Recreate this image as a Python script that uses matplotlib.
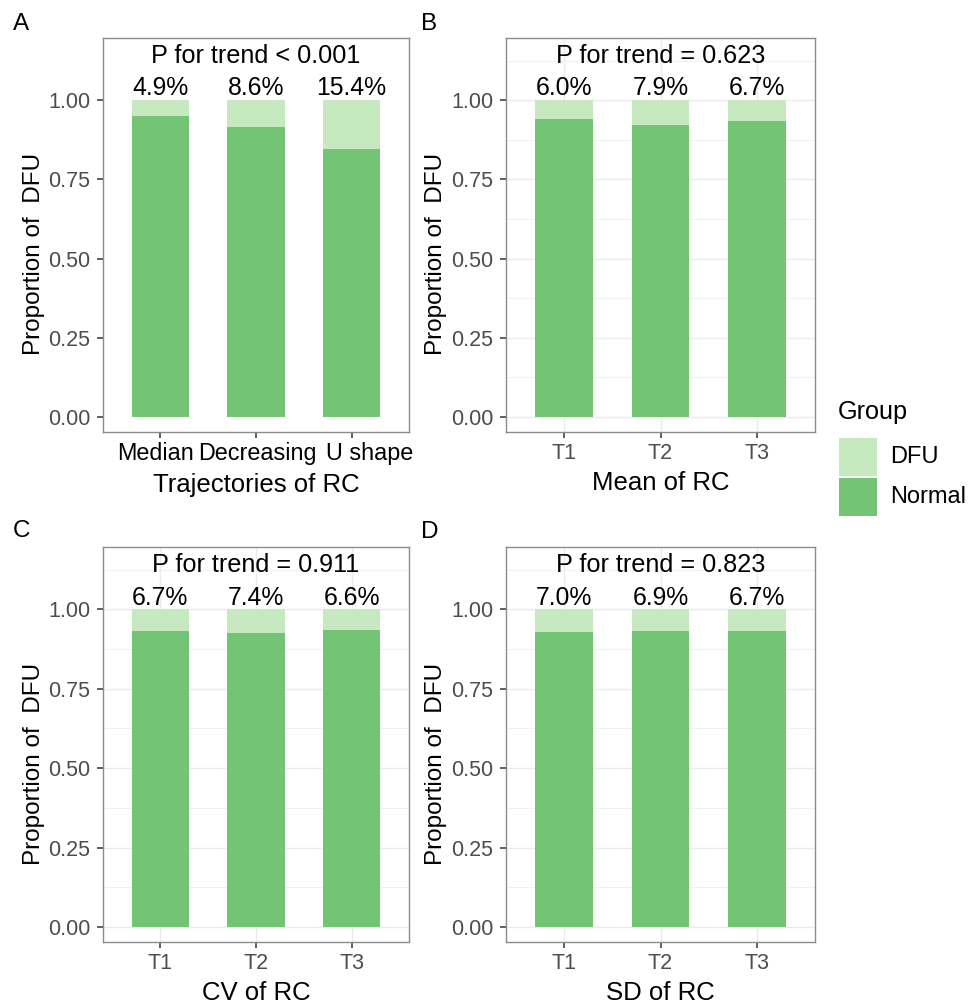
import matplotlib
matplotlib.use('Agg')
import matplotlib.pyplot as plt
from matplotlib.patches import Rectangle

plt.rcParams['font.family'] = ['Liberation Sans', 'DejaVu Sans']

# DFU percentage per group
traj_groups = ['Median', 'Decreasing', 'U shape']
traj_dfu = [4.9, 8.6, 15.4]

tert_groups = ['T1', 'T2', 'T3']
mean_dfu = [6.0, 7.9, 6.7]
cv_dfu = [6.7, 7.4, 6.6]
sd_dfu = [7.0, 6.9, 6.7]

p_texts = ['P for trend < 0.001', 'P for trend = 0.623',
           'P for trend = 0.911', 'P for trend = 0.823']
x_titles = ['Trajectories of RC', 'Mean of RC', 'CV of RC', 'SD of RC']
panel_tags = ['A', 'B', 'C', 'D']

y_ticks = [0.0, 0.25, 0.5, 0.75, 1.0]
y_ticklabels = ['0.00', '0.25', '0.50', '0.75', '1.00']

# in the source the trajectory labels sit a little off their ticks (pixels)
traj_label_shift = [-5, 1, 18]

DFU_COL = '#C7E9C0'
NORMAL_COL = '#74C476'
GRID_COL = '#EBEBEB'
BORDER_COL = '#8C8C8C'

W, H = 976, 1005
fig = plt.figure(figsize=(W / 100, H / 100), dpi=100)


def box(left, top, right, bottom):
    return [left / W, 1 - bottom / H, (right - left) / W, (bottom - top) / H]


panels = [
    (box(103, 38, 409, 432), traj_groups, traj_dfu, False),
    (box(506, 38, 815, 432), tert_groups, mean_dfu, True),
    (box(103, 547, 409, 942), tert_groups, cv_dfu, True),
    (box(506, 547, 815, 942), tert_groups, sd_dfu, True),
]
tag_pos = [(13, 24), (421, 24), (13, 531), (421, 532)]

for i, (rect, groups, dfu, grid) in enumerate(panels):
    ax = fig.add_axes(rect)
    xs = list(range(1, len(groups) + 1))
    normal = [1 - d / 100 for d in dfu]
    dfu_frac = [d / 100 for d in dfu]
    ax.bar(xs, normal, width=0.6, color=NORMAL_COL, zorder=2)
    ax.bar(xs, dfu_frac, width=0.6, bottom=normal, color=DFU_COL, zorder=2)
    for x, d in zip(xs, dfu):
        ax.text(x, 1.015, f'{d:.1f}%', ha='center', va='baseline',
                fontsize=17.8, color='black')
    ax.text(2, 1.117, p_texts[i], ha='center', va='baseline',
            fontsize=18.2, color='black')

    ax.set_xlim(0.4, 3.6)
    ax.set_ylim(-0.047, 1.196)
    ax.set_xticks(xs)
    ax.set_yticks(y_ticks)
    ax.set_yticklabels(y_ticklabels)
    if grid:
        ax.set_xticklabels(groups, fontsize=15.5, color='#4D4D4D')
        ax.set_yticks([0.125, 0.375, 0.625, 0.875, 1.125], minor=True)
        ax.grid(True, which='major', color=GRID_COL, lw=1.0, zorder=0)
        ax.grid(True, which='minor', axis='y', color=GRID_COL, lw=0.5, zorder=0)
        ax.tick_params(axis='y', which='minor', length=0)
    else:
        ax.set_xticklabels([])
        for x, lab, dx in zip(xs, groups, traj_label_shift):
            ax.annotate(lab, xy=(x, 0), xycoords=('data', 'axes fraction'),
                        xytext=(dx * 0.72, -7.4), textcoords='offset points',
                        ha='center', va='top', fontsize=16.8, color='black')
    ax.tick_params(axis='y', labelsize=15.5, labelcolor='#4D4D4D')
    ax.tick_params(which='major', length=4, width=1.1, color='#333333')
    ax.tick_params(axis='y', which='major', pad=5)
    ax.tick_params(axis='x', which='major', pad=4)
    ax.set_axisbelow(True)
    for sp in ax.spines.values():
        sp.set_color(BORDER_COL)
        sp.set_linewidth(1.0)

    ax.set_xlabel(x_titles[i], fontsize=18.5)
    ax.xaxis.set_label_coords(0.5, -0.104 if i == 0 else -0.098)
    ax.set_ylabel('Proportion of  DFU', fontsize=17.5)
    ax.yaxis.set_label_coords(-0.19, 0.452)

    tx, ty = tag_pos[i]
    fig.text(tx / W, 1 - ty / H, panel_tags[i], fontsize=17.5,
             ha='left', va='center')

# legend
fig.text(838 / W, 1 - 412 / H, 'Group', fontsize=18.2, ha='left', va='center')
for (label, col, top) in [('DFU', DFU_COL, 438), ('Normal', NORMAL_COL, 478)]:
    fig.patches.append(Rectangle((839 / W, 1 - (top + 38) / H), 38 / W, 38 / H,
                                 transform=fig.transFigure, facecolor=col,
                                 edgecolor='none'))
    fig.text(890 / W, 1 - (top + 19) / H, label, fontsize=17,
             ha='left', va='center')

fig.savefig('out.png', dpi=100, facecolor='white')
